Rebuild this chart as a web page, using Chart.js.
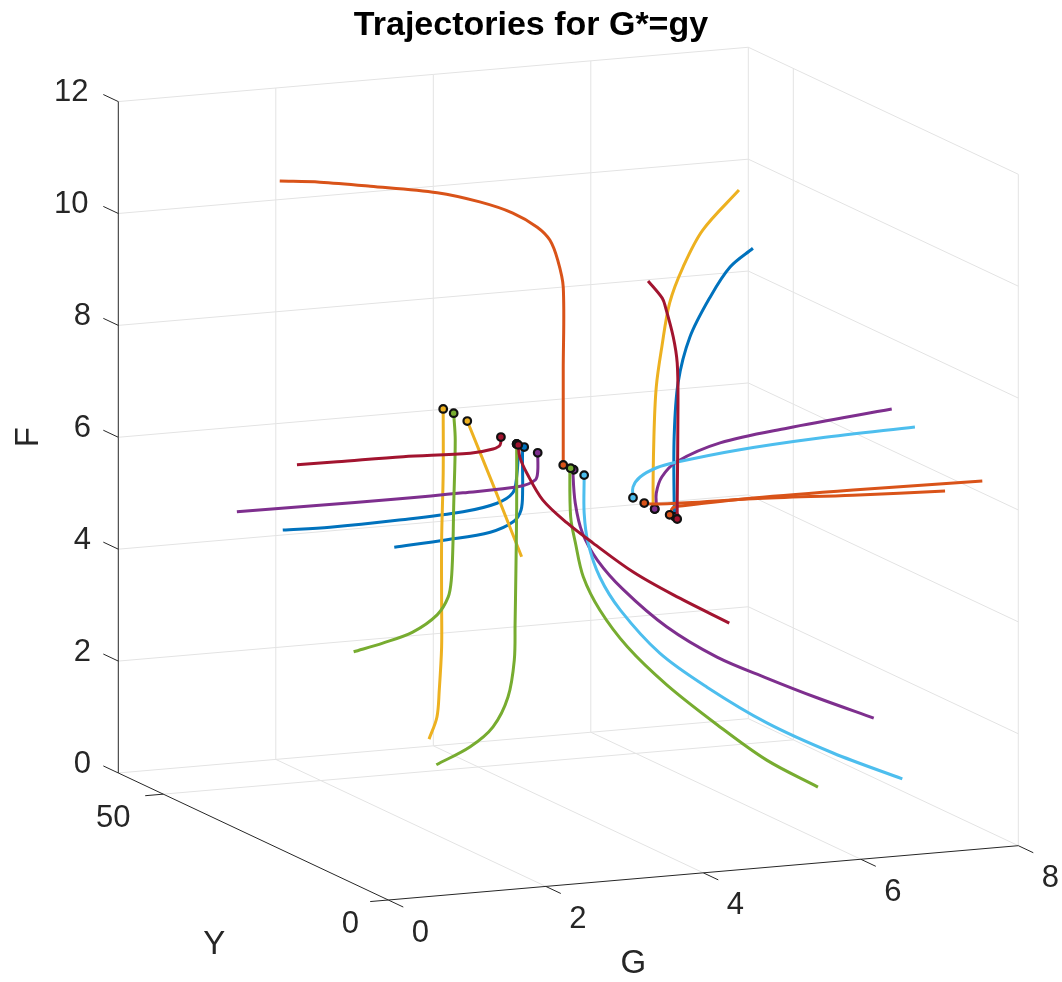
<!DOCTYPE html>
<html><head><meta charset="utf-8">
<style>html,body{margin:0;padding:0;background:#fff}canvas{display:block}</style>
<script src="https://cdn.jsdelivr.net/npm/chart.js@4"></script>
</head><body><canvas id="c" width="1062" height="982"></canvas>
<script>
// Axis ticks
const gTicks = [0, 2, 4, 6, 8];
const yTicks = [0, 50];
const fTicks = [0, 2, 4, 6, 8, 10, 12];
const gMax = 8, yMax = 60, fMax = 12;

// Trajectory values, one small set per line: Y level, G values, F values
const t01Y = 3.5;  const t01G = [3.84,3.83,3.83,3.88,4.03,4.29,4.54,4.83];  const t01F = [6.25,6.50,7.68,8.64,9.44,10.13,10.63,10.93];
const t02Y = 4.5;  const t02G = [3.83,3.87,4.00,4.89,6.16,7.80];  const t02F = [6.25,6.37,6.39,6.42,6.41,6.37];
const t03Y = 8;    const t03G = [3.84,3.82,3.83,3.86,3.93,4.03,4.20,4.45,4.91];  const t03F = [6.22,6.33,7.51,8.40,9.10,9.88,10.50,11.13,11.79];
const t04Y = 8;    const t04G = [3.84,3.86,3.86,3.93,4.12,4.67,5.52,6.85];  const t04F = [6.22,6.24,6.50,6.78,7.03,7.30,7.46,7.64];
const t05Y = 13;   const t05G = [3.85,3.85,3.94,4.15,4.41,5.17,6.22,7.43];  const t05F = [6.23,6.42,6.59,6.73,6.80,6.92,7.01,7.06];
const t06Y = 10.5; const t06G = [3.85,3.96,4.39,5.23,6.50,7.67];  const t06F = [6.23,6.20,6.17,6.14,6.05,5.98];
const t07Y = 3;    const t07G = [3.84,3.84,3.85,3.84,3.79,3.69,3.65,3.47];  const t07F = [6.23,6.52,8.30,9.02,9.49,10.04,10.20,10.53];
const t08Y = 23.5; const t08G = [3.83,3.83,3.83,3.88,4.03,4.29,4.79,5.39,6.15,6.99,7.87];  const t08F = [6.24,6.21,5.56,5.02,4.39,3.77,2.94,2.26,1.53,0.89,0.32];
const t09Y = 26;   const t09G = [3.84,3.83,3.86,3.95,4.14,4.47,5.02,5.66,6.29,6.93,7.65];  const t09F = [6.24,6.20,5.64,5.10,4.59,4.02,3.29,2.67,2.22,1.79,1.34];
const t10Y = 26.5; const t10G = [3.83,3.82,3.83,3.89,3.99,4.20,4.55,5.05,5.69,6.32,6.97];  const t10F = [6.25,6.22,5.38,4.91,4.29,3.67,2.97,2.23,1.44,0.73,0.17];
const t11Y = 28.5; const t11G = [3.85,3.85,3.85,3.78,3.68,3.52,3.21,2.79,2.25,1.40,0.76,0.25];  const t11F = [6.23,7.93,9.41,9.90,10.27,10.52,10.81,11.06,11.29,11.51,11.66,11.74];
const t12Y = 38.5; const t12G = [3.85,3.87,3.96,4.16,4.47,4.80,5.31,5.82,6.53];  const t12F = [6.21,5.99,5.69,5.19,4.74,4.34,3.76,3.29,2.70];
const t13Y = 38.5; const t13G = [3.83,3.85,3.83,3.78,3.58,3.15,2.31,1.46,0.86];  const t13F = [6.23,6.17,5.64,5.36,5.20,5.10,5.05,5.03,5.05];
const t14Y = 37;   const t14G = [3.84,3.82,3.82,3.80,3.70,3.41,2.86,2.19];  const t14F = [6.23,6.18,5.46,5.11,4.91,4.76,4.69,4.64];
const t15Y = 50;   const t15G = [3.86,4.21,4.55];  const t15F = [6.20,4.94,3.69];
const t16Y = 34;   const t16G = [3.84,3.84,3.81,3.62,2.89,2.05,0.99,0.02];  const t16F = [6.24,5.90,5.76,5.67,5.64,5.63,5.64,5.65];
const t17Y = 38.5; const t17G = [3.83,3.83,3.83,3.82,3.81,3.80,3.72,3.53,3.24,2.81];  const t17F = [6.23,6.12,5.10,3.92,3.03,2.37,1.72,1.21,0.89,0.62];
const t18Y = 55;   const t18G = [3.84,3.84,3.82,3.82,3.82,3.79,3.76,3.66];  const t18F = [6.23,5.09,3.89,2.69,1.98,1.21,0.73,0.35];
const t19Y = 52.5; const t19G = [3.83,3.85,3.83,3.82,3.80,3.76,3.62,3.31,2.93,2.56];  const t19F = [6.25,5.77,4.57,3.86,3.27,2.97,2.67,2.40,2.25,2.14];
const t20Y = 42;   const t20G = [3.83,3.82,3.73,3.44,2.59,1.75,1.24];  const t20F = [6.22,6.08,6.02,5.98,6.02,6.03,6.04];

const BLUE='#0072BD', ORANGE='#D95319', YELLOW='#EDB120', PURPLE='#7E2F8E', GREEN='#77AC30', SKY='#4DBEEE', RED='#A2142F';
const series = [
  [t01Y,t01G,t01F,BLUE],[t02Y,t02G,t02F,ORANGE],[t03Y,t03G,t03F,YELLOW],[t04Y,t04G,t04F,PURPLE],
  [t05Y,t05G,t05F,SKY],[t06Y,t06G,t06F,ORANGE],[t07Y,t07G,t07F,RED],
  [t13Y,t13G,t13F,BLUE],[t14Y,t14G,t14F,BLUE],[t11Y,t11G,t11F,ORANGE],[t15Y,t15G,t15F,YELLOW],[t18Y,t18G,t18F,YELLOW],
  [t16Y,t16G,t16F,PURPLE],[t09Y,t09G,t09F,PURPLE],[t17Y,t17G,t17F,GREEN],[t19Y,t19G,t19F,GREEN],[t10Y,t10G,t10F,GREEN],
  [t08Y,t08G,t08F,SKY],[t12Y,t12G,t12F,RED],[t20Y,t20G,t20F,RED]
];

// Orthographic view of the 3-D axes onto the page plane
function proj(G, Y, F) {
  return { x: 388.3 + G * 78.75 - Y * 4.5, y: 900 - G * 6.79 - Y * 2.117 - F * 55.95 };
}
function segments(list) {
  const out = [];
  list.forEach(s => { out.push(proj(s[0], s[1], s[2]), proj(s[3], s[4], s[5]), { x: NaN, y: NaN }); });
  return out;
}
const gridSeg = [], axisSeg = [];
[2,4,6].forEach(g => { gridSeg.push([g,0,0,g,yMax,0],[g,yMax,0,g,yMax,fMax]); });
[50].forEach(y => { gridSeg.push([0,y,0,gMax,y,0],[gMax,y,0,gMax,y,fMax]); });
fTicks.forEach(f => { gridSeg.push([0,yMax,f,gMax,yMax,f],[gMax,yMax,f,gMax,0,f]); });
gridSeg.push([gMax,yMax,0,gMax,yMax,fMax],[gMax,0,0,gMax,0,fMax]);
axisSeg.push([0,yMax,0,0,yMax,fMax],[0,yMax,0,0,0,0],[0,0,0,gMax,0,0]);
gTicks.forEach(g => axisSeg.push([g,0,0,g,-3.33,0]));
yTicks.forEach(y => axisSeg.push([0,y,0,-0.23,y,0]));
fTicks.forEach(f => axisSeg.push([0,yMax,f,0,yMax+3.33,f]));

const datasets = [
  { data: segments(gridSeg), borderColor:'#e3e3e3', borderWidth:1, pointRadius:0, showLine:true, order:1000, spanGaps:false, tension:0 },
  { data: segments(axisSeg), borderColor:'#262626', borderWidth:1, pointRadius:0, showLine:true, order:999, spanGaps:false, tension:0 }
];
series.forEach((s, i) => {
  const pts = s[1].map((g, k) => proj(g, s[0], s[2][k]));
  datasets.push({
    data: pts, borderColor: s[3], backgroundColor: s[3], borderWidth: 3, showLine: true, tension: 0.33,
    pointRadius: c => c.dataIndex === 0 ? 3.8 : 0, pointBorderColor:'#111', pointBorderWidth:2.2,
    pointBackgroundColor: s[3], order: 500 - i, clip: false
  });
});

const textPlugin = {
  id: 'axisText',
  afterDraw(chart) {
    const c = chart.ctx, X = chart.scales.x, Yc = chart.scales.y;
    const put = (t, p, dx, dy, size, rot) => {
      c.save();
      c.translate(X.getPixelForValue(p.x + dx), Yc.getPixelForValue(p.y + dy));
      if (rot) c.rotate(rot);
      c.font = size + 'px "Liberation Sans"'; c.fillStyle = '#262626';
      c.textAlign = 'center'; c.textBaseline = 'middle';
      c.fillText(t, 0, 0); c.restore();
    };
    fTicks.forEach(f => { const s=String(f); put(s, proj(0,yMax,f), s.length>1 ? -47 : -36, -9, 31); });
    gTicks.forEach(g => put(String(g), proj(g,0,0), 32, 33, 31));
    yTicks.forEach(y => put(String(y), proj(0,y,0), y ? -50 : -38, 24, 31));
    put('G', proj(4,0,0), -70, 91, 33);
    put('Y', proj(0,30,0), -39, 108, 33);
    put('F', proj(0,yMax,6), -89, 0, 33, -Math.PI/2);
  }
};

new Chart(document.getElementById('c'), {
  type: 'scatter',
  data: { datasets },
  options: {
    responsive: false, animation: false, events: [],
    layout: { padding: 0, autoPadding: false },
    plugins: {
      legend: { display: false }, tooltip: { enabled: false },
      title: { display: true, text: 'Trajectories for G*=gy', color: '#000',
        font: { family: 'Liberation Sans', size: 34, weight: 'bold', lineHeight: 1 }, padding: { top: 9, bottom: 1 } }
    },
    scales: {
      x: { type: 'linear', display: false, min: 0, max: 1062 },
      y: { type: 'linear', display: false, min: 44, max: 982, reverse: true }
    }
  },
  plugins: [textPlugin]
});
</script></body></html>
